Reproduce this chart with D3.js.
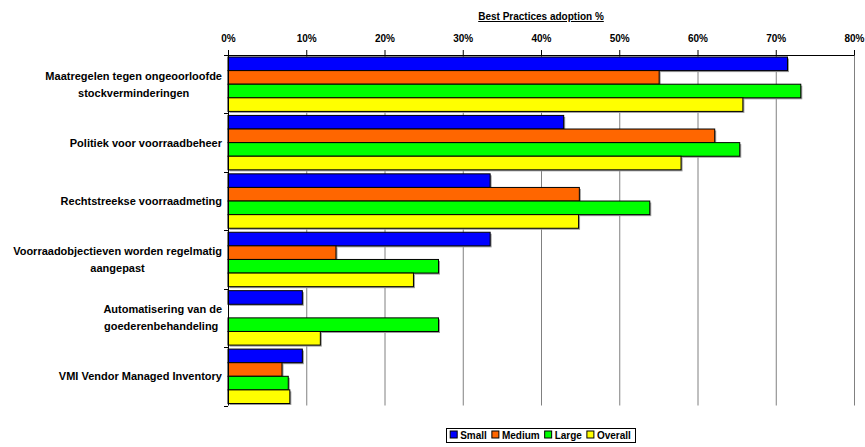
<!DOCTYPE html>
<html>
<head>
<meta charset="utf-8">
<script src="https://cdn.jsdelivr.net/npm/d3@7"></script>
<style>
  html, body { margin: 0; padding: 0; background: #fff; }
  svg { display: block; font-family: "Liberation Sans", Arial, sans-serif; }
</style>
</head>
<body>
<svg id="chart" width="865" height="447"></svg>
<script>
const categories = [
  ["Maatregelen tegen ongeoorloofde", "stockverminderingen"],
  ["Politiek voor voorraadbeheer"],
  ["Rechtstreekse voorraadmeting"],
  ["Voorraadobjectieven worden regelmatig", "aangepast"],
  ["Automatisering van de", "goederenbehandeling "],
  ["VMI Vendor Managed Inventory"]
];
const seriesNames = ["Small", "Medium", "Large", "Overall"];
const seriesColors = ["#0000FF", "#FF6600", "#00FF00", "#FFFF00"];
const small   = [71.5, 42.9, 33.5, 33.5, 9.5, 9.5];
const medium  = [55.1, 62.2, 44.9, 13.8, 0, 6.9];
const large   = [73.2, 65.4, 53.9, 26.9, 26.9, 7.7];
const overall = [65.8, 57.9, 44.8, 23.7, 11.8, 7.9];
const tickValues = [0, 10, 20, 30, 40, 50, 60, 70, 80];
const chartTitle = "Best Practices adoption %";

(function () {
const seriesValues = [small, medium, large, overall];
const svg = d3.select("#chart");
const pL = 228, pR = 854, pT = 55, pB = 405.5;
const catKeys = categories.map((c, i) => i);

const x = d3.scaleLinear().domain([0, 80]).range([pL, pR]);
const y = d3.scaleBand().domain(catKeys).range([pT, pB]).paddingInner(0).paddingOuter(0);
const yInner = d3.scaleBand().domain(seriesNames).range([2, y.bandwidth() - 2]).padding(0);

// gridlines
const grid = svg.append("g").attr("transform", `translate(0,${pT})`)
  .call(d3.axisTop(x).tickValues(tickValues.slice(1)).tickSize(-(pB - pT)).tickFormat(""));
grid.select(".domain").remove();
grid.selectAll("line").attr("stroke", "#808080").attr("stroke-width", 1);

// bars
const bars = [];
catKeys.forEach(ci => seriesNames.forEach((s, si) => bars.push({ci, s, si, v: seriesValues[si][ci]})));
const barG = svg.append("g");
barG.selectAll("rect.shadow").data(bars.filter(d => d.v > 0)).join("rect")
  .attr("class", "shadow")
  .attr("x", x(0) + 1.5)
  .attr("y", d => y(d.ci) + yInner(d.s) + 1.5)
  .attr("width", d => x(d.v) - x(0))
  .attr("height", yInner.bandwidth())
  .attr("fill", "#9a9a9a");
barG.selectAll("rect.bar").data(bars.filter(d => d.v > 0)).join("rect")
  .attr("class", "bar")
  .attr("x", x(0))
  .attr("y", d => y(d.ci) + yInner(d.s))
  .attr("width", d => x(d.v) - x(0))
  .attr("height", yInner.bandwidth())
  .attr("fill", d => seriesColors[d.si])
  .attr("stroke", "#000")
  .attr("stroke-width", 1);

// top axis
const xAxis = svg.append("g").attr("transform", `translate(0,${pT})`)
  .call(d3.axisTop(x).tickValues(tickValues).tickSizeInner(5).tickSizeOuter(0).tickPadding(8).tickFormat(d => d + "%"));
xAxis.select(".domain").attr("stroke", "#000");
xAxis.selectAll("line").attr("stroke", "#000");
xAxis.selectAll("text").attr("font-size", 10).attr("font-weight", "bold").attr("fill", "#000")
  .attr("font-family", "Liberation Sans, Arial, sans-serif");

// left axis line + boundary ticks
const yAxisG = svg.append("g");
yAxisG.append("line").attr("x1", pL + 0.5).attr("x2", pL + 0.5).attr("y1", pT).attr("y2", pB).attr("stroke", "#000");
const bounds = catKeys.map(k => y(k)).concat([y(catKeys[catKeys.length - 1]) + y.bandwidth()]);
yAxisG.selectAll("line.tk").data(bounds).join("line").attr("class", "tk")
  .attr("x1", pL - 4).attr("x2", pL).attr("y1", d => Math.round(d) + 0.5).attr("y2", d => Math.round(d) + 0.5)
  .attr("stroke", "#000");

// category labels
const labelRight = 222, lineH = 17;
categories.forEach((lines, ci) => {
  const cy = y(ci) + y.bandwidth() / 2;
  const g = svg.append("g");
  const texts = lines.map((ln, li) => g.append("text")
    .attr("font-size", 11).attr("font-weight", "bold").attr("fill", "#000")
    .attr("dominant-baseline", "central")
    .attr("y", cy + (li - (lines.length - 1) / 2) * lineH)
    .attr("xml:space", "preserve")
    .text(ln));
  const maxW = d3.max(texts, t => t.node().getComputedTextLength());
  texts.forEach(t => t.attr("text-anchor", "middle").attr("x", labelRight - maxW / 2));
});

// title
svg.append("text").attr("x", (pL + pR) / 2).attr("y", 20)
  .attr("text-anchor", "middle").attr("font-size", 10).attr("font-weight", "bold")
  .attr("text-decoration", "underline").text(chartTitle);

// legend
const lg = svg.append("g");
const ly = 435;
const items = [];
seriesNames.forEach((s, i) => {
  const it = lg.append("g");
  it.append("rect").attr("x", 0).attr("y", -4).attr("width", 7).attr("height", 7)
    .attr("fill", seriesColors[i]).attr("stroke", "#000");
  const t = it.append("text").attr("x", 10).attr("y", 0).attr("dominant-baseline", "central")
    .attr("font-size", 10).attr("font-weight", "bold").text(s);
  items.push({it, w: 10 + t.node().getComputedTextLength()});
});
const gap = 5;
const totalW = d3.sum(items, d => d.w) + gap * (items.length - 1);
const boxPad = 4;
const legendCx = 540.5;
let cx0 = legendCx - totalW / 2;
lg.insert("rect", ":first-child").attr("x", Math.round(cx0 - boxPad) + 0.5).attr("y", 428.5)
  .attr("width", Math.round(totalW + 2 * boxPad)).attr("height", 14)
  .attr("fill", "#fff").attr("stroke", "#000");
items.forEach(d => { d.it.attr("transform", `translate(${cx0},${ly})`); cx0 += d.w + gap; });
})();
</script>
</body>
</html>
